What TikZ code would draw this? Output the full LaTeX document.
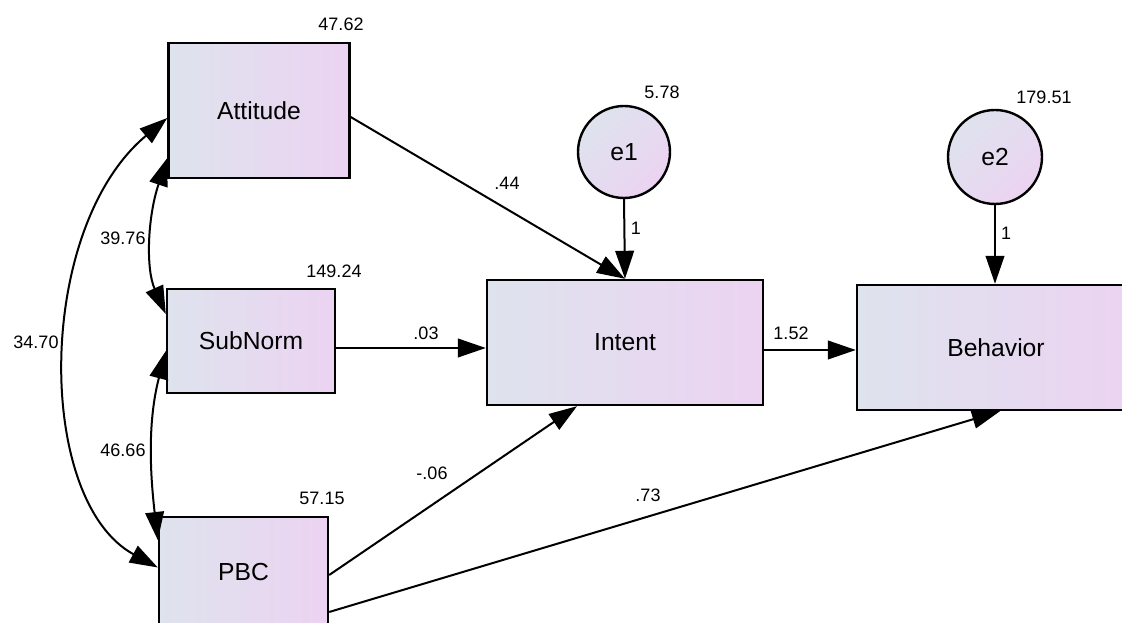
\documentclass[tikz,border=0pt]{standalone}
\usepackage{fontspec}
\setmainfont{Liberation Sans}
\usetikzlibrary{arrows.meta,calc}
\definecolor{boxl}{RGB}{222,227,237}
\definecolor{boxr}{RGB}{236,211,242}

\begin{document}
\begin{tikzpicture}[x=0.75pt,y=-0.75pt,
    var/.style={draw, line width=1.8pt, left color=boxl, right color=boxr,
      font=\fontsize{18.5}{21}\selectfont, inner sep=0pt},
    err/.style={var, circle, shading angle=45},
    num/.style={font=\fontsize{13.5}{16}\selectfont, inner sep=0pt},
    reg/.style={line width=1.5pt, -{Triangle[length=21pt,width=14pt]}},
    cov/.style={line width=1.5pt,
      {Triangle[length=21pt,width=14pt]}-{Triangle[length=21pt,width=14pt]}}]

    \useasboundingbox (0,0) rectangle (1122,623);
    \clip (0,0) rectangle (1122,623);

    \node[var, minimum width=135.75pt, minimum height=101.25pt] (att) at (259,110.5) {Attitude};
    \node[var, minimum width=126pt, minimum height=78pt] (sn) at (251,341) {SubNorm};
    \node[var, minimum width=126.75pt, minimum height=83.25pt] (pbc) at (243.5,572.5) {PBC};
    \node[var, minimum width=207pt, minimum height=93.75pt] (int) at (625,342.5) {Intent};
    \node[var, minimum width=208.5pt, minimum height=93.75pt] (beh) at (996,347.5) {Behavior};
    \node[err, minimum size=69pt] (e1) at (624,152) {e1};
    \node[err, minimum size=70.5pt] (e2) at (995,157) {e2};

    \node[num] (v1) at (341,24) {47.62};
    \node[num] (v2) at (334,271) {149.24};
    \node[num] (v3) at (322,498) {57.15};
    \node[num] (v4) at (662,92) {5.78};
    \node[num] (v5) at (1044,97) {179.51};
    \node[num] (c1) at (123,238) {39.76};
    \node[num] (c2) at (36,342) {34.70};
    \node[num] (c3) at (123,450) {46.66};
    \node[num] (w1) at (507,183) {.44};
    \node[num] (w2) at (426,333) {.03};
    \node[num] (w3) at (432,473) {-.06};
    \node[num] (w4) at (648,495) {.73};
    \node[num] (w5) at (791,333) {1.52};
    \node[num] (w6) at (636,228) {1};
    \node[num] (w7) at (1006,233) {1};

    \draw[reg] ($(att.east)+(0,6.5)$) -- (int.north);
    \draw[reg] (e1.south) -- (int.north);
    \draw[reg] ($(sn.east)+(0,7)$) -- ($(int.west)+(0,5.5)$);
    \draw[reg] ($(int.east)+(0,7.5)$) -- ($(beh.west)+(0,2.5)$);
    \draw[reg] (e2.south) -- (e2.south |- beh.north);
    \draw[reg] ($(pbc.east)+(0,2.5)$) -- ($(int.south)+(-48,0)$);
    \draw[reg] ($(pbc.east)+(0,39.5)$) -- ($(beh.south)+(4,0)$);

    \draw[cov] ($(att.west)+(0,47.5)$) .. controls +(-20,60) and +(-20,-45) .. ($(sn.west)+(0,-27)$);
    \draw[cov] ($(sn.west)+(0,10)$) .. controls +(-18,70) and +(-8,-70) .. ($(pbc.west)+(0,-32.5)$);
    \draw[cov] ($(att.west)+(0,7.5)$) .. controls +(-132,110) and +(-123,-67) .. ($(pbc.west)+(0,-5)$);

  \end{tikzpicture}
\end{document}
